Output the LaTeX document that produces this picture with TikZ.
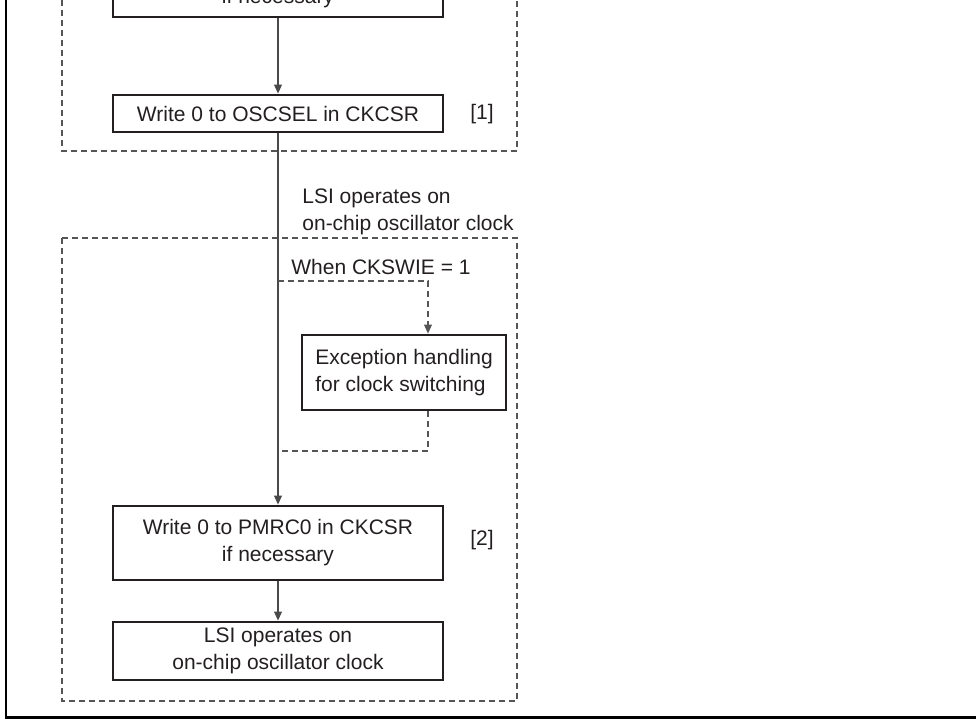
\documentclass[tikz,border=0pt]{standalone}
\usepackage{fontspec}
\setmainfont{Liberation Sans}
\usetikzlibrary{arrows.meta}

\definecolor{ink}{HTML}{231F20}
\definecolor{wire}{HTML}{4A4A4A}
\definecolor{dashc}{HTML}{555555}

\tikzset{
  txt/.style={text=ink, font=\fontsize{10.5}{13.5}\selectfont},
  stepbox/.style={txt, draw=ink, line width=1.3pt, minimum width=165pt,
    inner sep=0pt, align=center},
  plain/.style={txt, inner sep=0pt},
  tip/.style={-{Triangle[length=4.5pt,width=3.8pt]}},
  flow/.style={draw=wire, line width=0.9pt, tip},
  flowdash/.style={draw=dashc, line width=0.8pt, dash pattern=on 3pt off 2pt},
  groupdash/.style={draw=dashc, line width=0.8pt, dash pattern=on 3pt off 2pt},
  frame/.style={draw=black, line width=1.1pt},
}

\begin{document}
\begin{tikzpicture}[x=0.5pt, y=-0.5pt]
  \useasboundingbox (0,0) rectangle (976,719);
  \clip (0,0) rectangle (976,719);

  % outer frame (left and bottom edges)
  \draw[frame] (6,-10) |- (990,717.5);

  % group [1] and group [2]
  \draw[groupdash] (62,-30) |- (517,151) -- (517,-30);
  \draw[groupdash] (62,238) rectangle (517,701);

  % steps
  \node[stepbox, minimum height=37pt] (topbox) at (278,-20) {};
  \node[plain, anchor=base] (topnote) at (278,3) {if necessary};
  \node[stepbox, minimum height=18.5pt] (oscsel) at (278,113.5) {Write 0 to OSCSEL in CKCSR};
  \node[stepbox, minimum width=102pt, minimum height=37.5pt, align=left] (exc) at (404,372.5)
    {Exception handling\\for clock switching};
  \node[stepbox, minimum height=37pt] (pmrc) at (278,543) {Write 0 to PMRC0 in CKCSR\\if necessary};
  \node[stepbox, minimum height=29pt] (lsi) at (278,651) {LSI operates on\\on-chip oscillator clock};

  % annotations
  \node[plain] (tag1) at (482,114) {[1]};
  \node[plain] (tag2) at (482,540) {[2]};
  \node[plain, anchor=west, align=left] (lsinote) at (302,211.5)
    {LSI operates on\\on-chip oscillator clock};
  \node[plain, anchor=west] (cond) at (291,267) {When CKSWIE = 1};

  % connectors
  \coordinate (tapin) at (278,281);
  \coordinate (tapout) at (278,451);
  \coordinate (jx) at (428,0);

  \draw[flow] (topbox.south) -- (oscsel.north);
  \draw[flow] (oscsel.south) -- (pmrc.north);
  \draw[flow] (pmrc.south) -- (lsi.north);
  \draw[flowdash, tip] (tapin) -| (jx |- exc.north);
  \draw[flowdash] (jx |- exc.south) |- (tapout);
\end{tikzpicture}
\end{document}
